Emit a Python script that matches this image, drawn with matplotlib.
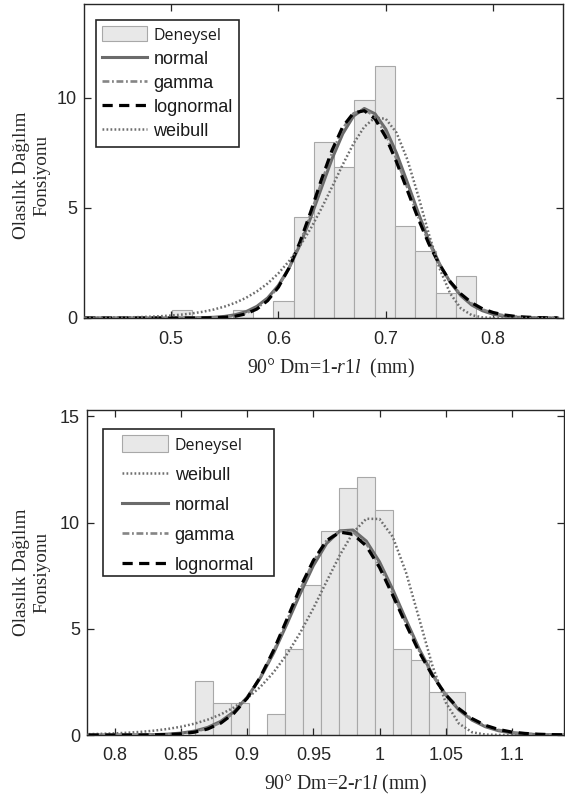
import numpy as np
import matplotlib
matplotlib.use("Agg")
import matplotlib.pyplot as plt
from matplotlib.patches import Rectangle

# ---------------- data ----------------
# Panel 1: 90° Dm=1-r1l
top_edges = [0.5008, 0.5197, 0.5386, 0.5575, 0.5764, 0.5953, 0.6141, 0.6330,
             0.6519, 0.6708, 0.6897, 0.7086, 0.7275, 0.7464, 0.7653, 0.7842]
top_density = [0.38, 0.0, 0.0, 0.38, 0.0, 0.76, 4.57, 8.00, 6.86, 9.91, 11.44,
               4.19, 3.05, 1.14, 1.91]

top_x = [0.42, 0.43, 0.44, 0.45, 0.46, 0.47, 0.48, 0.49, 0.50, 0.51, 0.52, 0.53,
         0.54, 0.55, 0.56, 0.57, 0.58, 0.59, 0.60, 0.61, 0.62, 0.63, 0.64, 0.65,
         0.66, 0.67, 0.68, 0.69, 0.70, 0.71, 0.72, 0.73, 0.74, 0.75, 0.76, 0.77,
         0.78, 0.79, 0.80, 0.81, 0.82, 0.83, 0.84, 0.85, 0.86]
top_normal = [0, 0, 0, 0, 0, 0, 0, 0, 0.001, 0.002, 0.006, 0.015,
              0.034, 0.073, 0.15, 0.29, 0.53, 0.91, 1.48, 2.28, 3.31, 4.55, 5.90, 7.24,
              8.38, 9.18, 9.52, 9.28, 8.58, 7.49, 6.17, 4.81, 3.54, 2.46, 1.62, 1.01,
              0.59, 0.33, 0.17, 0.085, 0.04, 0.017, 0.007, 0.002, 0.001]
top_gamma = [0, 0, 0, 0, 0, 0, 0, 0, 0.0004, 0.001, 0.003, 0.007,
             0.019, 0.046, 0.105, 0.22, 0.45, 0.83, 1.43, 2.28, 3.40, 4.72, 6.15, 7.51,
             8.62, 9.30, 9.47, 9.16, 8.35, 7.22, 5.93, 4.63, 3.43, 2.43, 1.64, 1.06,
             0.66, 0.39, 0.22, 0.12, 0.065, 0.033, 0.016, 0.007, 0.004]
top_lognormal = [0, 0, 0, 0, 0, 0, 0, 0, 0, 0.0002, 0.001, 0.004,
                 0.011, 0.033, 0.083, 0.19, 0.41, 0.79, 1.40, 2.28, 3.44, 4.81, 6.28, 7.63,
                 8.70, 9.32, 9.42, 9.05, 8.22, 7.09, 5.81, 4.54, 3.38, 2.42, 1.65, 1.09,
                 0.69, 0.42, 0.25, 0.14, 0.077, 0.041, 0.02, 0.01, 0.005]
top_weibull = [0.007, 0.010, 0.014, 0.020, 0.029, 0.041, 0.058, 0.081, 0.112, 0.155, 0.212, 0.287,
               0.388, 0.521, 0.695, 0.920, 1.21, 1.57, 2.03, 2.59, 3.27, 4.06, 4.97, 5.96,
               6.98, 7.93, 8.69, 9.11, 9.05, 8.42, 7.21, 5.59, 3.83, 2.26, 1.11, 0.43,
               0.13, 0.028, 0.004, 0, 0, 0, 0, 0, 0]

# Panel 2: 90° Dm=2-r1l
bot_edges = [0.8602, 0.8738, 0.8874, 0.9011, 0.9147, 0.9283, 0.9419, 0.9555,
             0.9692, 0.9828, 0.9964, 1.0100, 1.0236, 1.0373, 1.0509, 1.0645]
bot_density = [2.52, 1.51, 1.51, 0.0, 1.01, 4.04, 7.07, 9.60, 11.62, 12.13,
               10.61, 4.04, 3.54, 2.02, 2.02]

bot_x = [0.78, 0.79, 0.80, 0.81, 0.82, 0.83, 0.84, 0.85, 0.86, 0.87, 0.88, 0.89,
         0.90, 0.91, 0.92, 0.93, 0.94, 0.95, 0.96, 0.97, 0.98, 0.99, 1.00, 1.01,
         1.02, 1.03, 1.04, 1.05, 1.06, 1.07, 1.08, 1.09, 1.10, 1.11, 1.12, 1.13, 1.14]
bot_normal = [0, 0, 0.001, 0.003, 0.0075, 0.018, 0.042, 0.090, 0.184, 0.355, 0.645, 1.10,
              1.78, 2.70, 3.87, 5.23, 6.65, 7.98, 9.02, 9.61, 9.65, 9.13, 8.15, 6.85,
              5.43, 4.05, 2.85, 1.89, 1.18, 0.70, 0.39, 0.20, 0.10, 0.047, 0.02, 0.008, 0.003]
bot_gamma = [0, 0, 0.0005, 0.0015, 0.004, 0.011, 0.029, 0.067, 0.15, 0.31, 0.59, 1.05,
             1.75, 2.73, 3.96, 5.38, 6.84, 8.17, 9.16, 9.62, 9.55, 9.01, 7.98, 6.67,
             5.28, 3.96, 2.82, 1.90, 1.22, 0.75, 0.43, 0.24, 0.127, 0.065, 0.031, 0.015, 0.007]
bot_lognormal = [0, 0, 0.0002, 0.0007, 0.0025, 0.008, 0.022, 0.056, 0.132, 0.283, 0.562, 1.03,
                 1.74, 2.74, 4.00, 5.45, 6.94, 8.22, 9.15, 9.55, 9.45, 8.90, 7.89, 6.58,
                 5.21, 3.91, 2.80, 1.90, 1.24, 0.77, 0.455, 0.26, 0.14, 0.074, 0.037, 0.018, 0.009]
bot_weibull = [0.040, 0.056, 0.078, 0.109, 0.150, 0.208, 0.286, 0.391, 0.532, 0.721, 0.971, 1.30,
               1.73, 2.27, 2.96, 3.80, 4.81, 5.97, 7.23, 8.47, 9.53, 10.18, 10.17, 9.33,
               7.66, 5.47, 3.26, 1.54, 0.54, 0.13, 0.02, 0.002, 0, 0, 0, 0, 0]

xtick_top = [0.5, 0.6, 0.7, 0.8]
xticklabels_top = ["0.5", "0.6", "0.7", "0.8"]
xtick_bot = [0.8, 0.85, 0.9, 0.95, 1.0, 1.05, 1.1]
xticklabels_bot = ["0.8", "0.85", "0.9", "0.95", "1", "1.05", "1.1"]
ylabel_text = "Olasılık Dağılım\nFonsiyonu"
xlabel_top = "90° Dm=1-$\\mathit{r1l}$  (mm)"
xlabel_bot = "90° Dm=2-$\\mathit{r1l}$ (mm)"

# ---------------- style ----------------
plt.rcParams["font.family"] = ["Liberation Sans", "DejaVu Sans"]
plt.rcParams["mathtext.fontset"] = "custom"
plt.rcParams["mathtext.rm"] = "Liberation Serif"
plt.rcParams["mathtext.it"] = "Liberation Serif:italic"

AXC = "#262626"
styles = {
    "normal": dict(color="#6b6b6b", lw=2.2, ls="-"),
    "gamma": dict(color="#858585", lw=1.9, ls=(0, (2.6, 1.0, 0.7, 1.0))),
    "lognormal": dict(color="black", lw=2.3, ls=(0, (3.2, 2.0))),
    "weibull": dict(color="#6e6e6e", lw=1.8, ls=(0, (0.7, 0.9))),
}

W, H = 565, 800
fig = plt.figure(figsize=(W / 100, H / 100), dpi=100)
ax1 = fig.add_axes([84 / W, 1 - 318 / H, 479 / W, 314 / H])
ax2 = fig.add_axes([87 / W, 1 - 735 / H, 477 / W, 325 / H])


def draw(ax, edges, dens, x, curves, order, xlim, ylim, xticks, xticklabels,
         yticks, xlabel, xlabel_xy, ylabel_xy, legend_kw, frame_px=None):
    edges = np.asarray(edges)
    h = ax.bar(edges[:-1], dens, width=np.diff(edges), align="edge",
               facecolor="#e8e8e8", edgecolor="#a8a8a8", linewidth=0.8,
               label="Deneysel", zorder=1)
    lines = {}
    for name in order:
        st = styles[name]
        (ln,) = ax.plot(x, curves[name], color=st["color"], lw=st["lw"],
                        linestyle=st["ls"], label=name, zorder=3)
        lines[name] = ln
    ax.set_xlim(*xlim)
    ax.set_ylim(*ylim)
    ax.set_xticks(xticks)
    ax.set_xticklabels(xticklabels)
    ax.set_yticks(yticks)
    ax.tick_params(direction="in", top=True, right=True, length=5, width=0.9,
                   color=AXC, labelcolor=AXC, labelsize=13)
    ax.tick_params(axis="x", pad=9)
    ax.tick_params(axis="y", pad=5)
    for sp in ax.spines.values():
        sp.set_color(AXC)
        sp.set_linewidth(1.0)
    ax.set_xlabel(xlabel, family="Liberation Serif", fontsize=14.2, color=AXC)
    ax.xaxis.set_label_coords(*xlabel_xy)
    ax.set_ylabel(ylabel_text, family="Liberation Serif", fontsize=13.8,
                  color=AXC, linespacing=1.25)
    ax.yaxis.set_label_coords(*ylabel_xy)
    handles = [h] + [lines[n] for n in order]
    labels = ["Deneysel"] + order
    leg = ax.legend(handles, labels, loc="upper left", borderaxespad=0,
                    fancybox=False, framealpha=1, edgecolor=AXC, fontsize=13,
                    handletextpad=0.35, **legend_kw)
    leg.get_frame().set_linewidth(1.2)
    texts = leg.get_texts()
    texts[0].set_fontfamily("Open Sans")
    texts[0].set_fontsize(11.5)
    for t in texts:
        t.set_color("#1a1a1a")
    if frame_px is not None:
        # hand-drawn legend frame (wider than the content, as in the reference)
        x0, y0, x1, y1 = frame_px
        bb = ax.get_position()
        ax_l, ax_b = bb.x0 * W, bb.y0 * H
        ax_w, ax_h = bb.width * W, bb.height * H
        rx = (x0 - ax_l) / ax_w
        ry = ((H - y1) - ax_b) / ax_h
        rw = (x1 - x0) / ax_w
        rh = (y1 - y0) / ax_h
        ax.add_patch(Rectangle((rx, ry), rw, rh, transform=ax.transAxes,
                               facecolor="white", edgecolor=AXC, lw=1.2,
                               zorder=4.5))
        leg.set_zorder(5)
    return ax


draw(ax1, top_edges, top_density, top_x,
     {"normal": top_normal, "gamma": top_gamma, "lognormal": top_lognormal,
      "weibull": top_weibull},
     ["normal", "gamma", "lognormal", "weibull"],
     (0.419, 0.865), (0, 14.27), xtick_top, xticklabels_top, [0, 5, 10],
     xlabel_top, (0.516, -0.124), (-0.071, 0.455),
     dict(bbox_to_anchor=(0.0244, 0.949), handlelength=2.5, handleheight=0.9,
          labelspacing=0.35, borderpad=0.35))

draw(ax2, bot_edges, bot_density, bot_x,
     {"normal": bot_normal, "gamma": bot_gamma, "lognormal": bot_lognormal,
      "weibull": bot_weibull},
     ["weibull", "normal", "gamma", "lognormal"],
     (0.7788, 1.1395), (0, 15.3), xtick_bot, xticklabels_bot, [0, 5, 10, 15],
     xlabel_bot, (0.541, -0.117), (-0.077, 0.5),
     dict(bbox_to_anchor=(0.074, 0.922), handlelength=2.55, handleheight=1.05,
          labelspacing=0.64, borderpad=0.0, frameon=False),
     frame_px=(103, 429, 274, 576))

fig.savefig("out.png", dpi=100)
